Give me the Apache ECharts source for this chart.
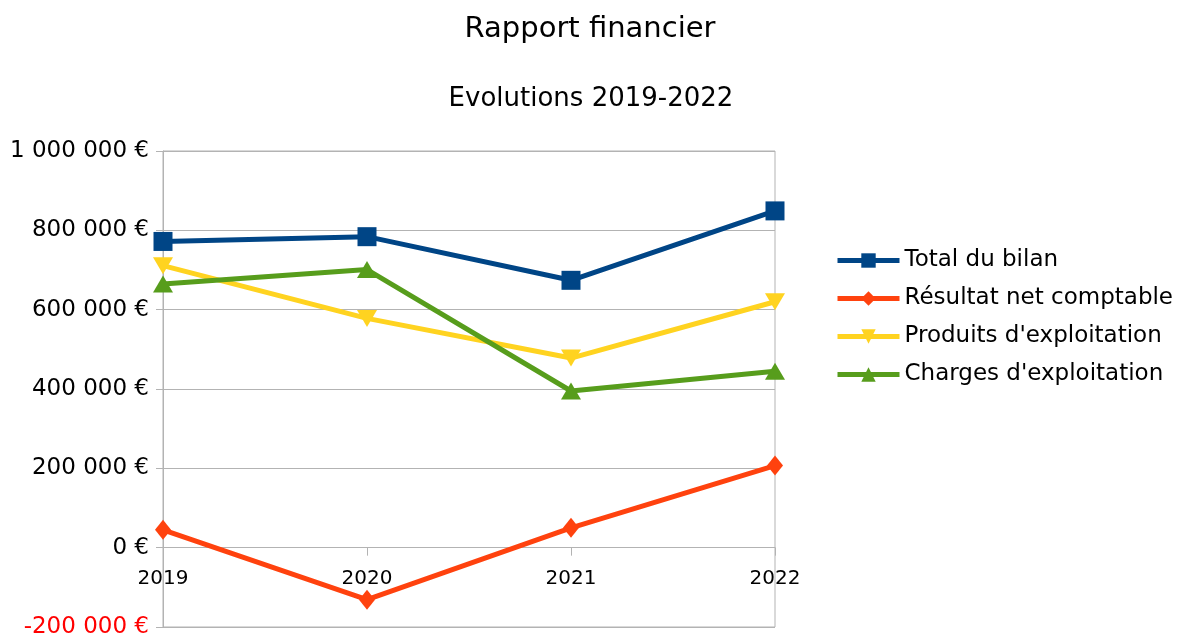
<!DOCTYPE html>
<html>
<head>
<meta charset="utf-8">
<title>Rapport financier</title>
<script src="https://cdn.jsdelivr.net/npm/echarts@6/dist/echarts.min.js"></script>
<style>
	html, body { margin: 0; padding: 0; background: #fff; }
	#RapportChart { width: 1177px; height: 637px; }
</style>
</head>
<body>
<div id="RapportChart"></div>
<script>
	// données
	const annees = ['2019', '2020', '2021', '2022']
	const totalBilan = [772000, 784000, 674000, 849000]
	const resultatNet = [45000, -131000, 50000, 207000]
	const produitsExpl = [711000, 578000, 478000, 620000]
	const chargesExpl = [665000, 701000, 395000, 445000]

	const yMin = -200000
	const yMax = 1000000
	const yPas = 200000

	const police = 'DejaVu Sans'

	// zone de tracé
	const grilleHaut = 151
	const grilleBas = 10
	const hauteurGrille = 637 - grilleHaut - grilleBas
	// l'axe des années est posé sur la ligne 0 €
	const decalageX = -hauteurGrille * (0 - yMin) / (yMax - yMin)

	// 1 000 000 €
	function formatEuro(v) {
		let s = String(Math.abs(v)).replace(/\B(?=(\d{3})+(?!\d))/g, ' ')
		return (v < 0 ? '-' : '') + s + ' €'
	}

	function serie(nom, couleur, data, symbol, taille, rotation) {
		return {
			name: nom,
			type: 'line',
			data: data,
			symbol: symbol,
			symbolSize: taille,
			symbolRotate: rotation || 0,
			showAllSymbol: true,
			lineStyle: { color: couleur, width: 5 },
			itemStyle: { color: couleur },
			emphasis: { disabled: true }
		}
	}

	const option = {
		animation: false,
		backgroundColor: '#fff',
		title: [
			{
				text: 'Rapport financier',
				left: 585, top: 10,
				textAlign: 'center',
				textStyle: { fontFamily: police, fontSize: 29, fontWeight: 'normal', color: '#000' }
			},
			{
				text: 'Evolutions 2019-2022',
				left: 586, top: 81,
				textAlign: 'center',
				textStyle: { fontFamily: police, fontSize: 26, fontWeight: 'normal', color: '#000' }
			}
		],
		legend: {
			orient: 'vertical',
			left: 830,
			top: 243,
			itemWidth: 62,
			itemHeight: 18,
			itemGap: 13,
			lineStyle: { width: 5 },
			textStyle: { fontFamily: police, fontSize: 23, color: '#000', lineHeight: 25 },
			data: ['Total du bilan', 'Résultat net comptable', "Produits d'exploitation", "Charges d'exploitation"]
		},
		grid: {
			left: 163,
			right: 402,
			top: grilleHaut,
			bottom: grilleBas,
			outerBoundsMode: 'none',
			show: true,
			borderColor: '#b3b3b3',
			borderWidth: 1
		},
		xAxis: {
			type: 'category',
			boundaryGap: false,
			data: annees,
			offset: decalageX,
			axisLine: { onZero: false, lineStyle: { color: '#b3b3b3', width: 1 } },
			axisTick: { show: true, length: 8, lineStyle: { color: '#b3b3b3' } },
			axisLabel: { margin: 21, fontFamily: police, fontSize: 20, color: '#000' },
			splitLine: { show: false }
		},
		yAxis: {
			type: 'value',
			min: yMin,
			max: yMax,
			interval: yPas,
			axisLine: { show: true, lineStyle: { color: '#b3b3b3', width: 1 } },
			axisTick: { show: true, length: 7, lineStyle: { color: '#b3b3b3' } },
			axisLabel: {
				margin: 14,
				fontFamily: police,
				fontSize: 23,
				color: '#000',
				formatter: function (v) {
					return v < 0 ? '{neg|' + formatEuro(v) + '}' : formatEuro(v)
				},
				rich: {
					neg: { color: '#ff0000', fontFamily: police, fontSize: 23 }
				}
			},
			splitLine: { show: true, lineStyle: { color: '#b3b3b3', width: 1 } }
		},
		series: [
			serie('Total du bilan', '#004586', totalBilan, 'rect', 19),
			serie('Résultat net comptable', '#ff420e', resultatNet, 'diamond', [16, 20]),
			serie("Produits d'exploitation", '#ffd320', produitsExpl, 'triangle', [20, 17], 180),
			serie("Charges d'exploitation", '#579d1c', chargesExpl, 'triangle', [20, 17])
		]
	}

	let chart = echarts.init(document.getElementById('RapportChart'))
	chart.setOption(option)
	window.onresize = () => {
		chart.resize()
	}
</script>
</body>
</html>
